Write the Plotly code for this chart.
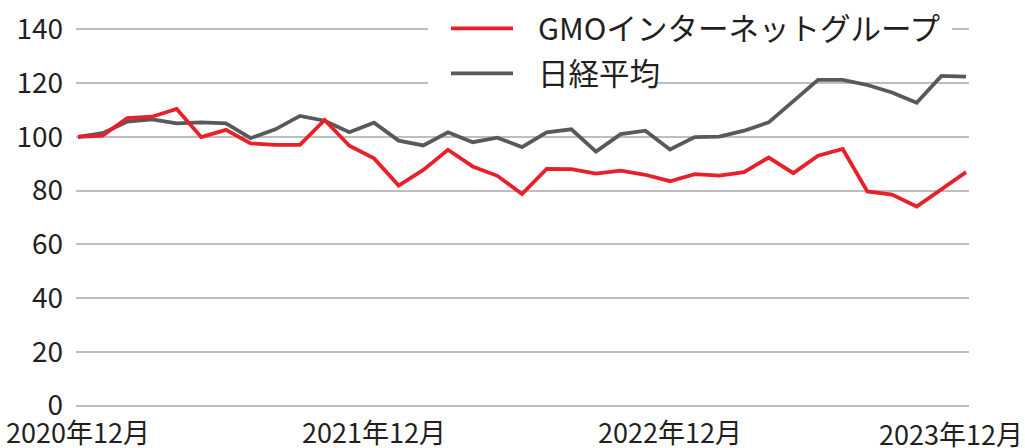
import plotly.graph_objects as go

# ---- data ----
months = []
for y in range(2020, 2024):
    for m in range(1, 13):
        if (y == 2020 and m < 12):
            continue
        months.append(f"{y}年{m}月")
months = months[:37]

gmo = [100, 100.5, 107, 107.5, 110.4, 99.9, 102.6, 97.6, 97, 97, 106.3, 96.7, 92,
       81.9, 87.7, 95.2, 89, 85.5, 78.7, 88.1, 88, 86.3, 87.4, 85.9, 83.5,
       86.1, 85.6, 86.9, 92.3, 86.5, 93, 95.5, 79.7, 78.5, 74.1, 80.3, 86.9]
nikkei = [100, 101.4, 105.7, 106.5, 105, 105.4, 105, 99.5, 102.8, 107.8, 106, 101.7, 105.3,
          98.6, 96.8, 101.7, 98, 99.7, 96.2, 101.7, 102.8, 94.5, 101, 102.3, 95.3,
          99.9, 100.1, 102.3, 105.4, 113.1, 121.2, 121.2, 119.3, 116.5, 112.7, 122.7, 122.4]

series_names = ["GMOインターネットグループ", "日経平均"]
series_colors = ["#e8202a", "#58595b"]
y_ticks = [0, 20, 40, 60, 80, 100, 120, 140]
x_tick_idx = [0, 12, 24, 36]

FONT = "Noto Sans CJK JP"
W_FIG, H_FIG = 1025, 448
L, R, T, B = 76, 56, 27.6, 40.6
PW, PH = W_FIG - L - R, H_FIG - T - B

def px(x):
    return (x - L) / PW

def py(y):
    return 1 - (y - T) / PH

fig = go.Figure()
for name, vals, col in zip(series_names[::-1], [nikkei, gmo], series_colors[::-1]):
    fig.add_trace(go.Scatter(x=months, y=vals, mode="lines", name=name,
                             line=dict(color=col, width=3.8), showlegend=False))

fig.update_layout(
    width=W_FIG, height=H_FIG,
    margin=dict(l=L, r=R, t=T, b=B, autoexpand=False),
    plot_bgcolor="white", paper_bgcolor="white",
    font=dict(family=FONT, size=28, color="#231f20"),
    xaxis=dict(type="category", range=[-0.08, 36.12], showgrid=False, zeroline=False,
               showline=False, tickmode="array", automargin=False,
               tickvals=[months[i] for i in x_tick_idx[:3]],
               ticktext=["2020年12月", "2021年12月", "2022年12月"],
               ticks="", ticklabelstandoff=8, ticklabeloverflow="allow",
               tickfont=dict(size=27)),
    yaxis=dict(range=[-0.5, 140.5], tickvals=y_ticks, showgrid=True, automargin=False,
               gridcolor="#bcbec0", gridwidth=1.5, zeroline=False, showline=False,
               ticks="", ticklabelstandoff=12, tickfont=dict(size=28)),
)

# last x label kept inside the canvas
fig.add_annotation(text="2023年12月", xref="paper", yref="paper",
                   x=px(1025), y=0, xanchor="right", yanchor="top", yshift=-5,
                   showarrow=False, font=dict(family=FONT, size=27, color="#231f20"))

# legend (custom, with white boxes behind each item)
rows = [(28, 428, 952), (73, 428, 657)]
shapes = []
for (yc, x0, x1), col, name in zip(rows, series_colors, series_names):
    shapes.append(dict(type="rect", xref="paper", yref="paper", layer="above",
                       x0=px(x0), x1=px(x1), y0=py(yc - 21), y1=py(yc + 21),
                       fillcolor="white", line=dict(width=0)))
    shapes.append(dict(type="line", xref="paper", yref="paper", layer="above",
                       x0=px(451), x1=px(513), y0=py(yc), y1=py(yc),
                       line=dict(color=col, width=3.8)))
    fig.add_annotation(text=name, xref="paper", yref="paper", x=px(536), y=py(yc - 1.5),
                       xanchor="left", yanchor="middle", showarrow=False,
                       font=dict(family=FONT, size=30.5, color="#231f20"))
fig.update_layout(shapes=shapes)

fig.write_html("out.html", config={"displayModeBar": False},
               post_script="document.body.style.margin='0';document.body.style.overflow='hidden';")
